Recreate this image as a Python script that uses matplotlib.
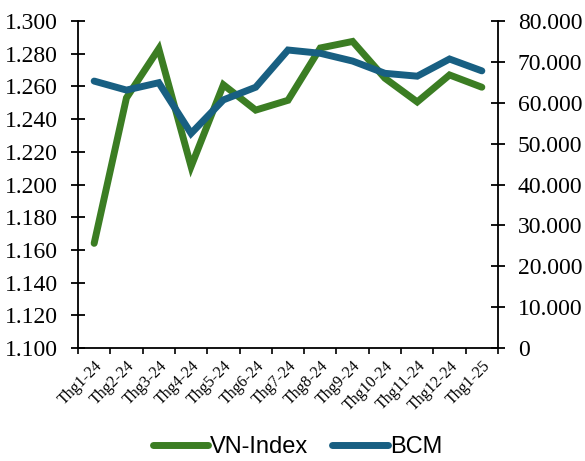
import matplotlib
matplotlib.use("Agg")
import matplotlib.pyplot as plt
from matplotlib.ticker import FixedLocator, FuncFormatter

categories = ["Thg1-24", "Thg2-24", "Thg3-24", "Thg4-24", "Thg5-24", "Thg6-24", "Thg7-24",
              "Thg8-24", "Thg9-24", "Thg10-24", "Thg11-24", "Thg12-24", "Thg1-25"]
vn_index = [1164, 1253, 1283, 1211, 1261, 1245.5, 1251.5, 1283.5, 1287.5, 1265, 1250.5, 1267, 1259.5]
bcm = [65300, 63100, 64900, 52500, 60700, 63800, 72900, 72100, 70200, 67200, 66500, 70700, 67800]

left_ticks = [1100, 1120, 1140, 1160, 1180, 1200, 1220, 1240, 1260, 1280, 1300]
right_ticks = [0, 10000, 20000, 30000, 40000, 50000, 60000, 70000, 80000]

GREEN = "#3B7D23"
BLUE = "#185F82"

def vn_fmt(v, pos=None):
    return f"{v:,.0f}".replace(",", ".")

fig = plt.figure(figsize=(5.85, 4.61), dpi=100)
ax = fig.add_axes([78/585, 1-348/461, 420/585, 327/461])
ax2 = ax.twinx()

x = list(range(len(categories)))
l1, = ax.plot(x, vn_index, color=GREEN, lw=5, solid_capstyle="round", solid_joinstyle="miter", label="VN-Index")
l2, = ax2.plot(x, bcm, color=BLUE, lw=5, solid_capstyle="round", solid_joinstyle="miter", label="BCM")

ax.set_xlim(-0.5, len(categories) - 0.5)
ax.set_ylim(1100, 1300)
ax2.set_ylim(0, 80000)

serif = "Liberation Serif"
ax.yaxis.set_major_locator(FixedLocator(left_ticks))
ax.yaxis.set_major_formatter(FuncFormatter(vn_fmt))
ax2.yaxis.set_major_locator(FixedLocator(right_ticks))
ax2.yaxis.set_major_formatter(FuncFormatter(vn_fmt))

ax.set_xticks(x)
ax.set_xticklabels(categories, rotation=45, ha="right", va="top", rotation_mode="anchor",
                   fontfamily=serif, fontsize=11.5)
ax.set_xticks([i - 0.5 for i in range(len(categories) + 1)], minor=True)
ax.tick_params(axis="x", which="major", length=0, pad=7)
ax.tick_params(axis="x", which="minor", length=4, width=1.2, direction="out", color="black")

ax.tick_params(axis="y", direction="inout", length=9.5, width=1.3, pad=9.5, labelsize=17)
ax2.tick_params(axis="y", direction="inout", length=9.5, width=1.3, pad=9.5, labelsize=17)
for lab in ax.get_yticklabels() + ax2.get_yticklabels():
    lab.set_fontfamily(serif)

for a in (ax, ax2):
    a.spines["top"].set_visible(False)
    for s in ("left", "right", "bottom"):
        a.spines[s].set_linewidth(1.3)
ax2.spines["left"].set_visible(False)
ax2.spines["bottom"].set_visible(False)
ax.spines["right"].set_visible(False)

leg = fig.legend([l1, l2], ["VN-Index", "BCM"], loc="center", bbox_to_anchor=(297.5/585, 1-447/461),
                 ncol=2, frameon=False, handlelength=2.35, handletextpad=0.1, columnspacing=1.0,
                 prop={"family": "Liberation Sans", "size": 17})

fig.savefig("out.png", dpi=100)
